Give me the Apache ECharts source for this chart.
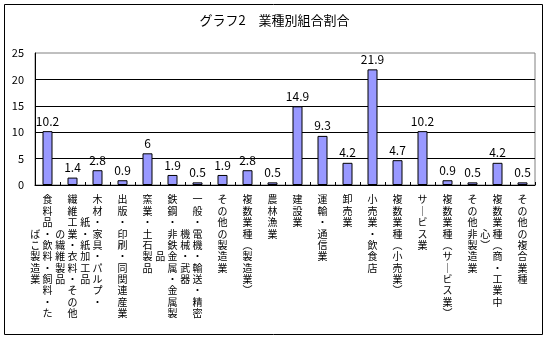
<!DOCTYPE html>
<html>
<head>
<meta charset="utf-8">
<script src="https://cdn.jsdelivr.net/npm/echarts@6/dist/echarts.min.js"></script>
<style>
html,body{margin:0;padding:0;background:#fff;}
#chart{width:549px;height:337px;}
</style>
</head>
<body>
<div id="chart"></div>
<script>
// ---- data ----
const titleText = 'グラフ2　業種別組合割合';
const categories = [
  '食料品・飲料・飼料・たばこ製造業',
  '繊維工業・衣料・その他の繊維製品',
  '木材・家具・パルプ・紙・紙加工品',
  '出版・印刷・同関連産業',
  '窯業・土石製品',
  '鉄鋼・非鉄金属・金属製品',
  '一般・電機・輸送・精密機械・武器',
  'その他の製造業',
  '複数業種（製造業）',
  '農林漁業',
  '建設業',
  '運輸・通信業',
  '卸売業',
  '小売業・飲食店',
  '複数業種（小売業）',
  'サービス業',
  '複数業種（サービス業）',
  'その他非製造業',
  '複数業種（商・工業中心）',
  'その他の複合業種'
];
const values = [10.2, 1.4, 2.8, 0.9, 6, 1.9, 0.5, 1.9, 2.8, 0.5, 14.9, 9.3, 4.2, 21.9, 4.7, 10.2, 0.9, 0.5, 4.2, 0.5];
const yTickLabels = ['0', '5', '10', '15', '20', '25'];

// ---- label layout (vertical columns, right to left: [startRow, length]) ----
const labelColumns = {
  0: [[0, 11], [3, 5]],
  1: [[0, 11], [3, 5]],
  2: [[0, 10], [2, 6]],
  5: [[0, 11], [5, 1]],
  6: [[0, 11], [3, 5]],
  18: [[0, 10], [3, 2]]
};
const verticalForms = { '（': '︵', '）': '︶', 'ー': '｜' };

function verticalLabel(value, index) {
  const chars = Array.from(value).map(c => verticalForms[c] || c);
  const cols = labelColumns[index] || [[0, chars.length]];
  let pos = 0;
  const colChars = cols.map(([start, len]) => {
    const part = chars.slice(pos, pos + len);
    pos += len;
    return { start, part };
  });
  const nRows = Math.max(...colChars.map(c => c.start + c.part.length));
  const n = colChars.length;
  const pad = n > 1 ? ' ' + new Array(n - 1).fill('　').join(' ') : '';
  const lines = [];
  for (let r = 0; r < nRows; r++) {
    const cells = [];
    for (let k = n - 1; k >= 0; k--) {
      const c = colChars[k];
      const i = r - c.start;
      cells.push(i >= 0 && i < c.part.length ? c.part[i] : '　');
    }
    lines.push(cells.join(' ') + pad);
  }
  return lines.join('\n');
}

const FONT = '"Noto Sans CJK JP", "Noto Sans", sans-serif';
const chart = echarts.init(document.getElementById('chart'), null, { renderer: 'canvas' });
chart.setOption({
  backgroundColor: '#ffffff',
  animation: false,
  title: {
    text: titleText,
    left: 'center',
    top: 9,
    textStyle: { fontFamily: FONT, fontSize: 13, fontWeight: 'normal', color: '#000' }
  },
  graphic: [{
    type: 'rect',
    shape: { x: 4.5, y: 4.5, width: 538, height: 330 },
    style: { fill: 'none', stroke: '#000', lineWidth: 1 },
    silent: true
  }],
  grid: {
    left: 35, right: 14, top: 53, bottom: 152,
    show: true, borderColor: '#808080', borderWidth: 1, backgroundColor: 'transparent'
  },
  xAxis: {
    type: 'category',
    data: categories,
    boundaryGap: true,
    axisLine: { lineStyle: { color: '#000', width: 1 } },
    axisTick: { show: true, inside: true, length: 3, lineStyle: { color: '#000' } },
    axisLabel: {
      interval: 0,
      hideOverlap: false,
      margin: 9,
      fontFamily: FONT,
      fontSize: 10,
      lineHeight: 11.35,
      color: '#000',
      align: 'center',
      verticalAlign: 'top',
      formatter: verticalLabel
    }
  },
  yAxis: {
    type: 'value',
    min: 0, max: 25, interval: 5,
    axisLine: { show: true, lineStyle: { color: '#000', width: 1 } },
    axisTick: { show: false },
    splitLine: { show: true, showMaxLine: false, lineStyle: { color: '#000', width: 1 } },
    axisLabel: {
      margin: 11,
      fontFamily: FONT,
      fontSize: 11,
      color: '#000',
      formatter: (v) => yTickLabels[Math.round(v / 5)]
    }
  },
  series: [{
    type: 'bar',
    data: values,
    barWidth: 10,
    itemStyle: { color: '#9999FF', borderColor: '#000', borderWidth: 1 },
    label: {
      show: true,
      position: 'top',
      distance: 4,
      fontFamily: FONT,
      fontSize: 12,
      color: '#000'
    }
  }]
});
</script>
</body>
</html>
